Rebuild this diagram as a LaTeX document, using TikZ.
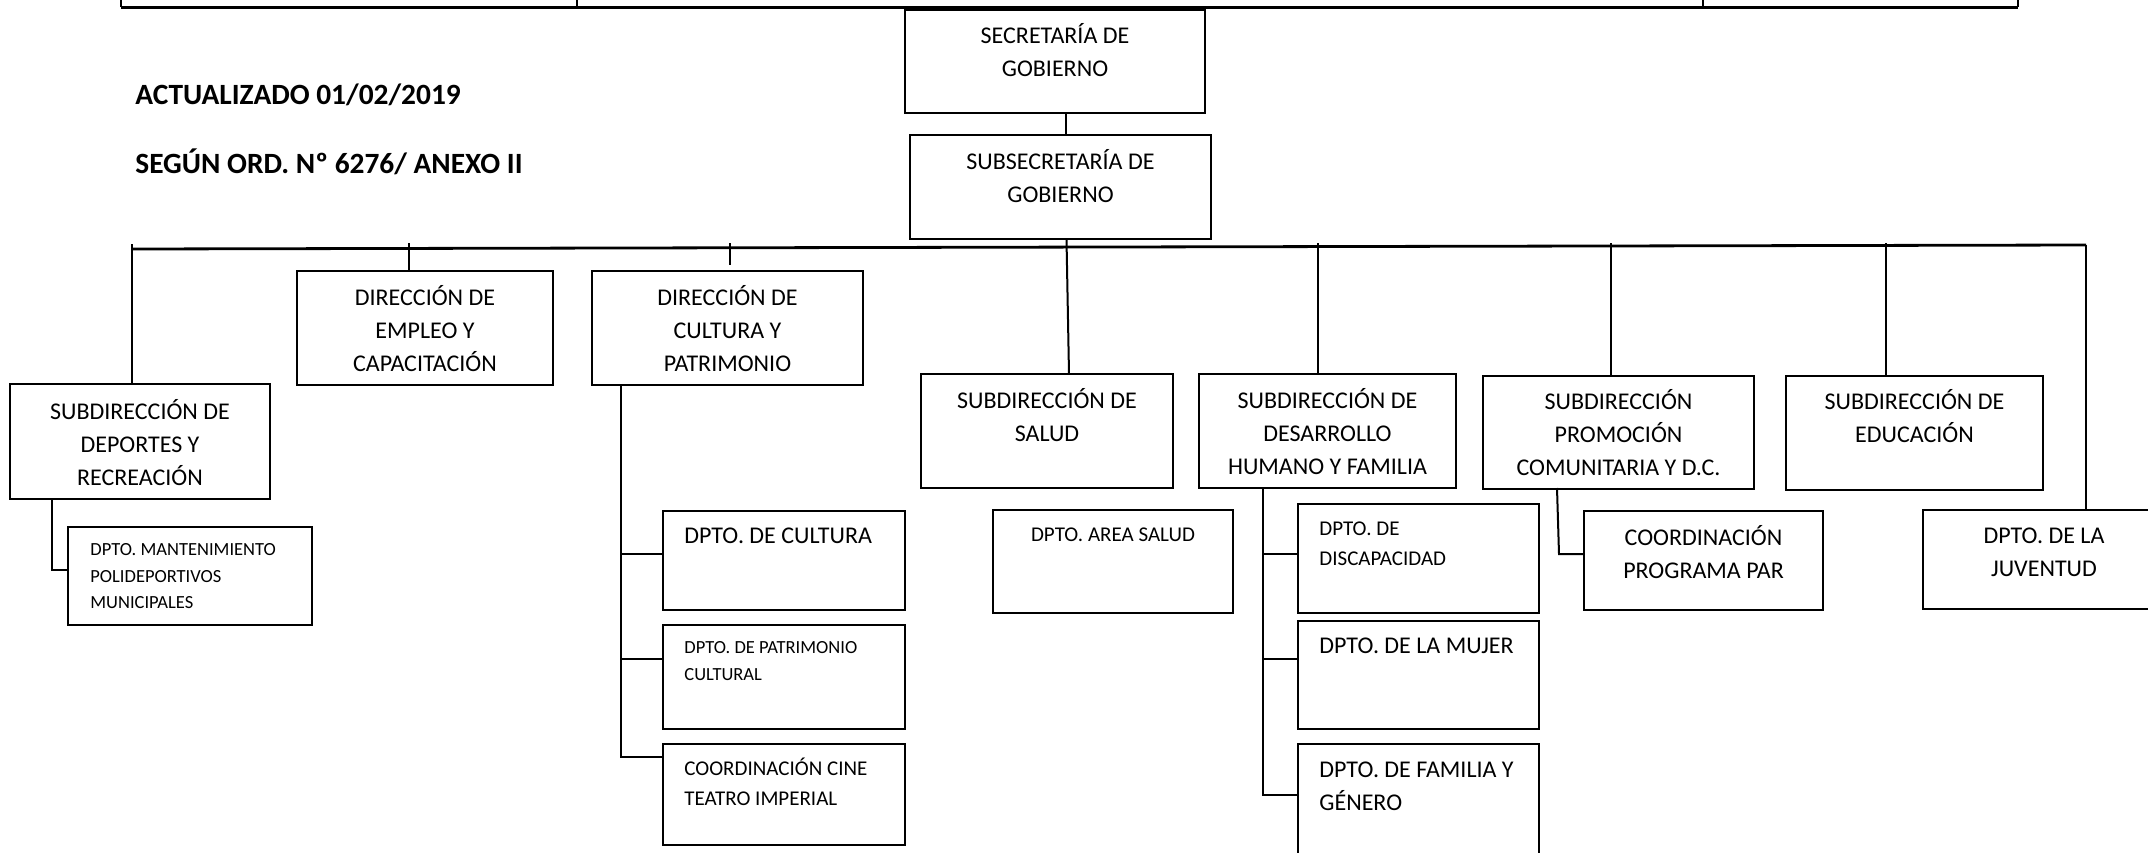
\documentclass[tikz,border=0pt]{standalone}
\usepackage{fontspec}
\setmainfont{Carlito}
\begin{document}
\begin{tikzpicture}[x=0.5pt,y=-0.5pt,
  bx/.style={draw, line width=1.1pt, inner sep=0pt, outer sep=0pt, anchor=north west},
  conn/.style={line width=1pt},
  busline/.style={line width=1.4pt},
  bigt/.style={font=\fontsize{12}{16.6}\selectfont, inner sep=0pt, align=center, anchor=north},
  bigl/.style={font=\fontsize{12}{16.2}\selectfont, inner sep=0pt, align=left, anchor=north west},
  midt/.style={font=\fontsize{10.5}{15}\selectfont, inner sep=0pt, align=center, anchor=north},
  midl/.style={font=\fontsize{10.5}{15}\selectfont, inner sep=0pt, align=left, anchor=north west},
  smalll/.style={font=\fontsize{9.25}{13.3}\selectfont, inner sep=0pt, align=left, anchor=north west},
  head/.style={font=\bfseries\fontsize{14.7}{17}\selectfont, inner sep=0pt, anchor=base west}
]
\useasboundingbox (0,0) rectangle (2148,852);
\clip (0,0) rectangle (2148,852);

% top table fragment
\coordinate (tA) at (121,7);
\coordinate (tB) at (577,7);
\coordinate (tC) at (1703,7);
\coordinate (tD) at (2018,7);
\draw[line width=1.5pt] (tA) -- (tD);
\draw[line width=1pt] (tA) -- ++(0,-20) (tB) -- ++(0,-20) (tC) -- ++(0,-20) (tD) -- ++(0,-20);

% header texts
\node[head] (h1) at (135,104) {ACTUALIZADO 01/02/2019};
\node[head] (h2) at (135,173) {SEGÚN ORD. Nº 6276/ ANEXO II};

% boxes
\newcommand\bx[5]{\node[bx, minimum width=#4*0.5pt, minimum height=#5*0.5pt] (#1) at (#2,#3) {};}
\bx{sec}{905}{10}{300}{103}
\bx{subsec}{910}{135}{301}{104}
\bx{deportes}{10}{384}{260}{115}
\bx{empleo}{297}{271}{256}{114}
\bx{cultura}{592}{271}{271}{114}
\bx{salud}{921}{374}{252}{114}
\bx{desarrollo}{1199}{374}{257}{114}
\bx{promocion}{1483}{376}{271}{113}
\bx{educacion}{1786}{376}{257}{114}
\bx{juventud}{1923}{510}{242}{99}
\bx{mant}{68}{527}{244}{98}
\bx{dcultura}{663}{511}{242}{99}
\bx{patrimonio}{663}{625}{242}{104}
\bx{cine}{663}{744}{242}{101}
\bx{areasalud}{993}{510}{240}{103}
\bx{discap}{1298}{504}{241}{109}
\bx{mujer}{1298}{621}{241}{108}
\bx{familia}{1298}{744}{241}{136}
\bx{coordpar}{1584}{511}{239}{99}

% texts
\node[bigt] (t-sec) at (1055,19.8) {\strut SECRETARÍA DE\\GOBIERNO};
\node[bigt] (t-subsec) at (1060.5,145.8) {\strut SUBSECRETARÍA DE\\GOBIERNO};
\node[bigt] (t-deportes) at (140,395.8) {\strut SUBDIRECCIÓN DE\\DEPORTES Y\\RECREACIÓN};
\node[bigt] (t-empleo) at (425,281.8) {\strut DIRECCIÓN DE\\EMPLEO Y\\CAPACITACIÓN};
\node[bigt] (t-cultura) at (727.5,281.8) {\strut DIRECCIÓN DE\\CULTURA Y\\PATRIMONIO};
\node[bigt] (t-salud) at (1047,384.8) {\strut SUBDIRECCIÓN DE\\SALUD};
\node[bigt] (t-desarrollo) at (1327.5,384.8) {\strut SUBDIRECCIÓN DE\\DESARROLLO\\HUMANO Y FAMILIA};
\node[bigt] (t-promocion) at (1618.5,385.8) {\strut SUBDIRECCIÓN\\PROMOCIÓN\\COMUNITARIA Y D.C.};
\node[bigt] (t-educacion) at (1914.5,385.8) {\strut SUBDIRECCIÓN DE\\EDUCACIÓN};
\node[bigt] (t-coordpar) at (1703.5,521.8) {\strut COORDINACIÓN\\PROGRAMA PAR};
\node[bigt] (t-juventud) at (2044,519.8) {\strut DPTO. DE LA\\JUVENTUD};
\node[bigl] (t-dcultura) at (684,520.8) {\strut DPTO. DE CULTURA};
\node[smalll] (t-patrimonio) at (684,634.4) {\strut DPTO. DE PATRIMONIO\\CULTURAL};
\node[midl] (t-cine) at (684,754) {\strut COORDINACIÓN CINE\\TEATRO IMPERIAL};
\node[midt] (t-areasalud) at (1113,520) {\strut DPTO. AREA SALUD};
\node[midl] (t-discap) at (1319,514) {\strut DPTO. DE\\DISCAPACIDAD};
\node[bigl] (t-mujer) at (1319,630.8) {\strut DPTO. DE LA MUJER};
\node[bigl] (t-familia) at (1319,754.8) {\strut DPTO. DE FAMILIA Y\\GÉNERO};
\node[smalll] (t-mant) at (90,536.4) {\strut DPTO. MANTENIMIENTO\\POLIDEPORTIVOS\\MUNICIPALES};

% connectors
\coordinate (k0) at (1066,0);
\draw[conn] (sec.south -| k0) -- (subsec.north -| k0);
\coordinate (s1) at (1066.5,239);
\coordinate (s2) at (1069,374);
\draw[conn] (s1) -- (s2);

\coordinate (busL) at (132,249);
\coordinate (busR) at (2086,245);
\draw[busline] (busL) -- (busR);

\coordinate (v1) at (132,244);
\coordinate (v2) at (409,243);
\coordinate (v3) at (730,243);
\coordinate (v3e) at (730,265);
\coordinate (v4) at (1318,243);
\coordinate (v5) at (1611,243);
\coordinate (v6) at (1886,243);
\draw[conn] (v1) -- (v1 |- deportes.north);
\draw[conn] (v2) -- (v2 |- empleo.north);
\draw[conn] (v3) -- (v3e);
\draw[conn] (v4) -- (v4 |- desarrollo.north);
\draw[conn] (v5) -- (v5 |- promocion.north);
\draw[conn] (v6) -- (v6 |- educacion.north);
\draw[conn] (busR) -- (busR |- juventud.north);

% deportes -> mantenimiento
\coordinate (d1) at (52,570);
\draw[conn] (deportes.south -| d1) |- (d1 -| mant.west);
% cultura branch
\coordinate (c1) at (621,554);
\coordinate (c2) at (621,659);
\coordinate (c3) at (621,757);
\draw[conn] (cultura.south -| c1) -- (c3) -- (c3 -| cine.west);
\draw[conn] (c1) -- (c1 -| dcultura.west);
\draw[conn] (c2) -- (c2 -| patrimonio.west);
% desarrollo branch
\coordinate (e1) at (1263,554);
\coordinate (e2) at (1263,659);
\coordinate (e3) at (1263,795);
\draw[conn] (desarrollo.south -| e1) -- (e3) -- (e3 -| familia.west);
\draw[conn] (e1) -- (e1 -| discap.west);
\draw[conn] (e2) -- (e2 -| mujer.west);
% promocion -> coordinacion
\coordinate (p1) at (1557,488);
\coordinate (p2) at (1559,554);
\draw[conn] (p1) -- (p2) -- (p2 -| coordpar.west);
\end{tikzpicture}
\end{document}
